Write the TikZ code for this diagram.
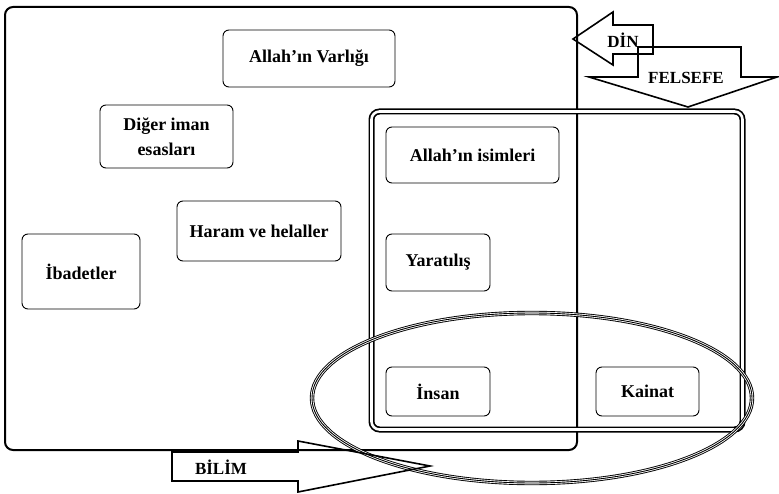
\documentclass[tikz,border=0pt]{standalone}
\usepackage{fontspec}
\setmainfont{Liberation Serif}
\tikzset{
  kutu/.style={draw, rounded corners=6pt, line width=0.9pt, align=center,
    inner sep=2pt, font=\bfseries\fontsize{18}{25}\selectfont},
  okyazi/.style={font=\bfseries\fontsize{17}{20}\selectfont},
  ok/.style={line width=1.6pt, line join=miter}
}
\begin{document}
\begin{tikzpicture}[x=1pt,y=-1pt]
  \useasboundingbox (0,0) rectangle (779,494);

  % alanlar
  \draw[line width=2pt, rounded corners=8pt] (5,7) rectangle (577,450);
  \draw[line width=1.7pt, double, double distance=2.6pt, rounded corners=8pt]
    (371.5,111.5) rectangle (742.5,429.5);
  \draw[line width=4.4pt] (532,398) ellipse [x radius=220, y radius=85];
  \draw[line width=2.6pt, white] (532,398) ellipse [x radius=220, y radius=85];
  \draw[line width=0.9pt] (532,398) ellipse [x radius=220, y radius=85];

  % oklar
  \draw[ok] (573,39) -- (613,12) -- (613,25) -- (653,25) -- (653,54)
    -- (613,54) -- (613,65) -- cycle;
  \draw[ok] (638,47) -- (741,47) -- (741,77) -- (777,77) -- (688,107)
    -- (589,77) -- (638,77) -- cycle;
  \draw[ok] (172,452) -- (298,452) -- (298,441) -- (430,466) -- (298,492)
    -- (298,481) -- (172,481) -- cycle;
  \node[okyazi] (din) at (623,40) {DİN};
  \node[okyazi] (felsefe) at (686,78) {FELSEFE};
  \node[okyazi] (bilim) at (221,467) {BİLİM};

  % kutular
  \node[kutu, minimum width=172pt, minimum height=57pt] (varlik) at (309,58.5) {Allah’ın Varlığı};
  \node[kutu, minimum width=133pt, minimum height=63pt] (diger) at (166.5,136.5) {Diğer iman\\esasları};
  \node[kutu, minimum width=164pt, minimum height=60pt] (haram) at (259,231) {Haram ve helaller};
  \node[kutu, minimum width=118pt, minimum height=75pt] (ibadet) at (81,271.5) {İbadetler};
  \node[kutu, minimum width=173pt, minimum height=56pt] (isim) at (472.5,155) {Allah’ın isimleri};
  \node[kutu, minimum width=104pt, minimum height=57pt] (yarat) at (438,262.5) {Yaratılış};
  \node[kutu, minimum width=104pt, minimum height=49pt] (insan) at (438,391.5) {İnsan};
  \node[kutu, minimum width=103pt, minimum height=49pt] (kainat) at (647.5,391.5) {Kainat};
\end{tikzpicture}
\end{document}
